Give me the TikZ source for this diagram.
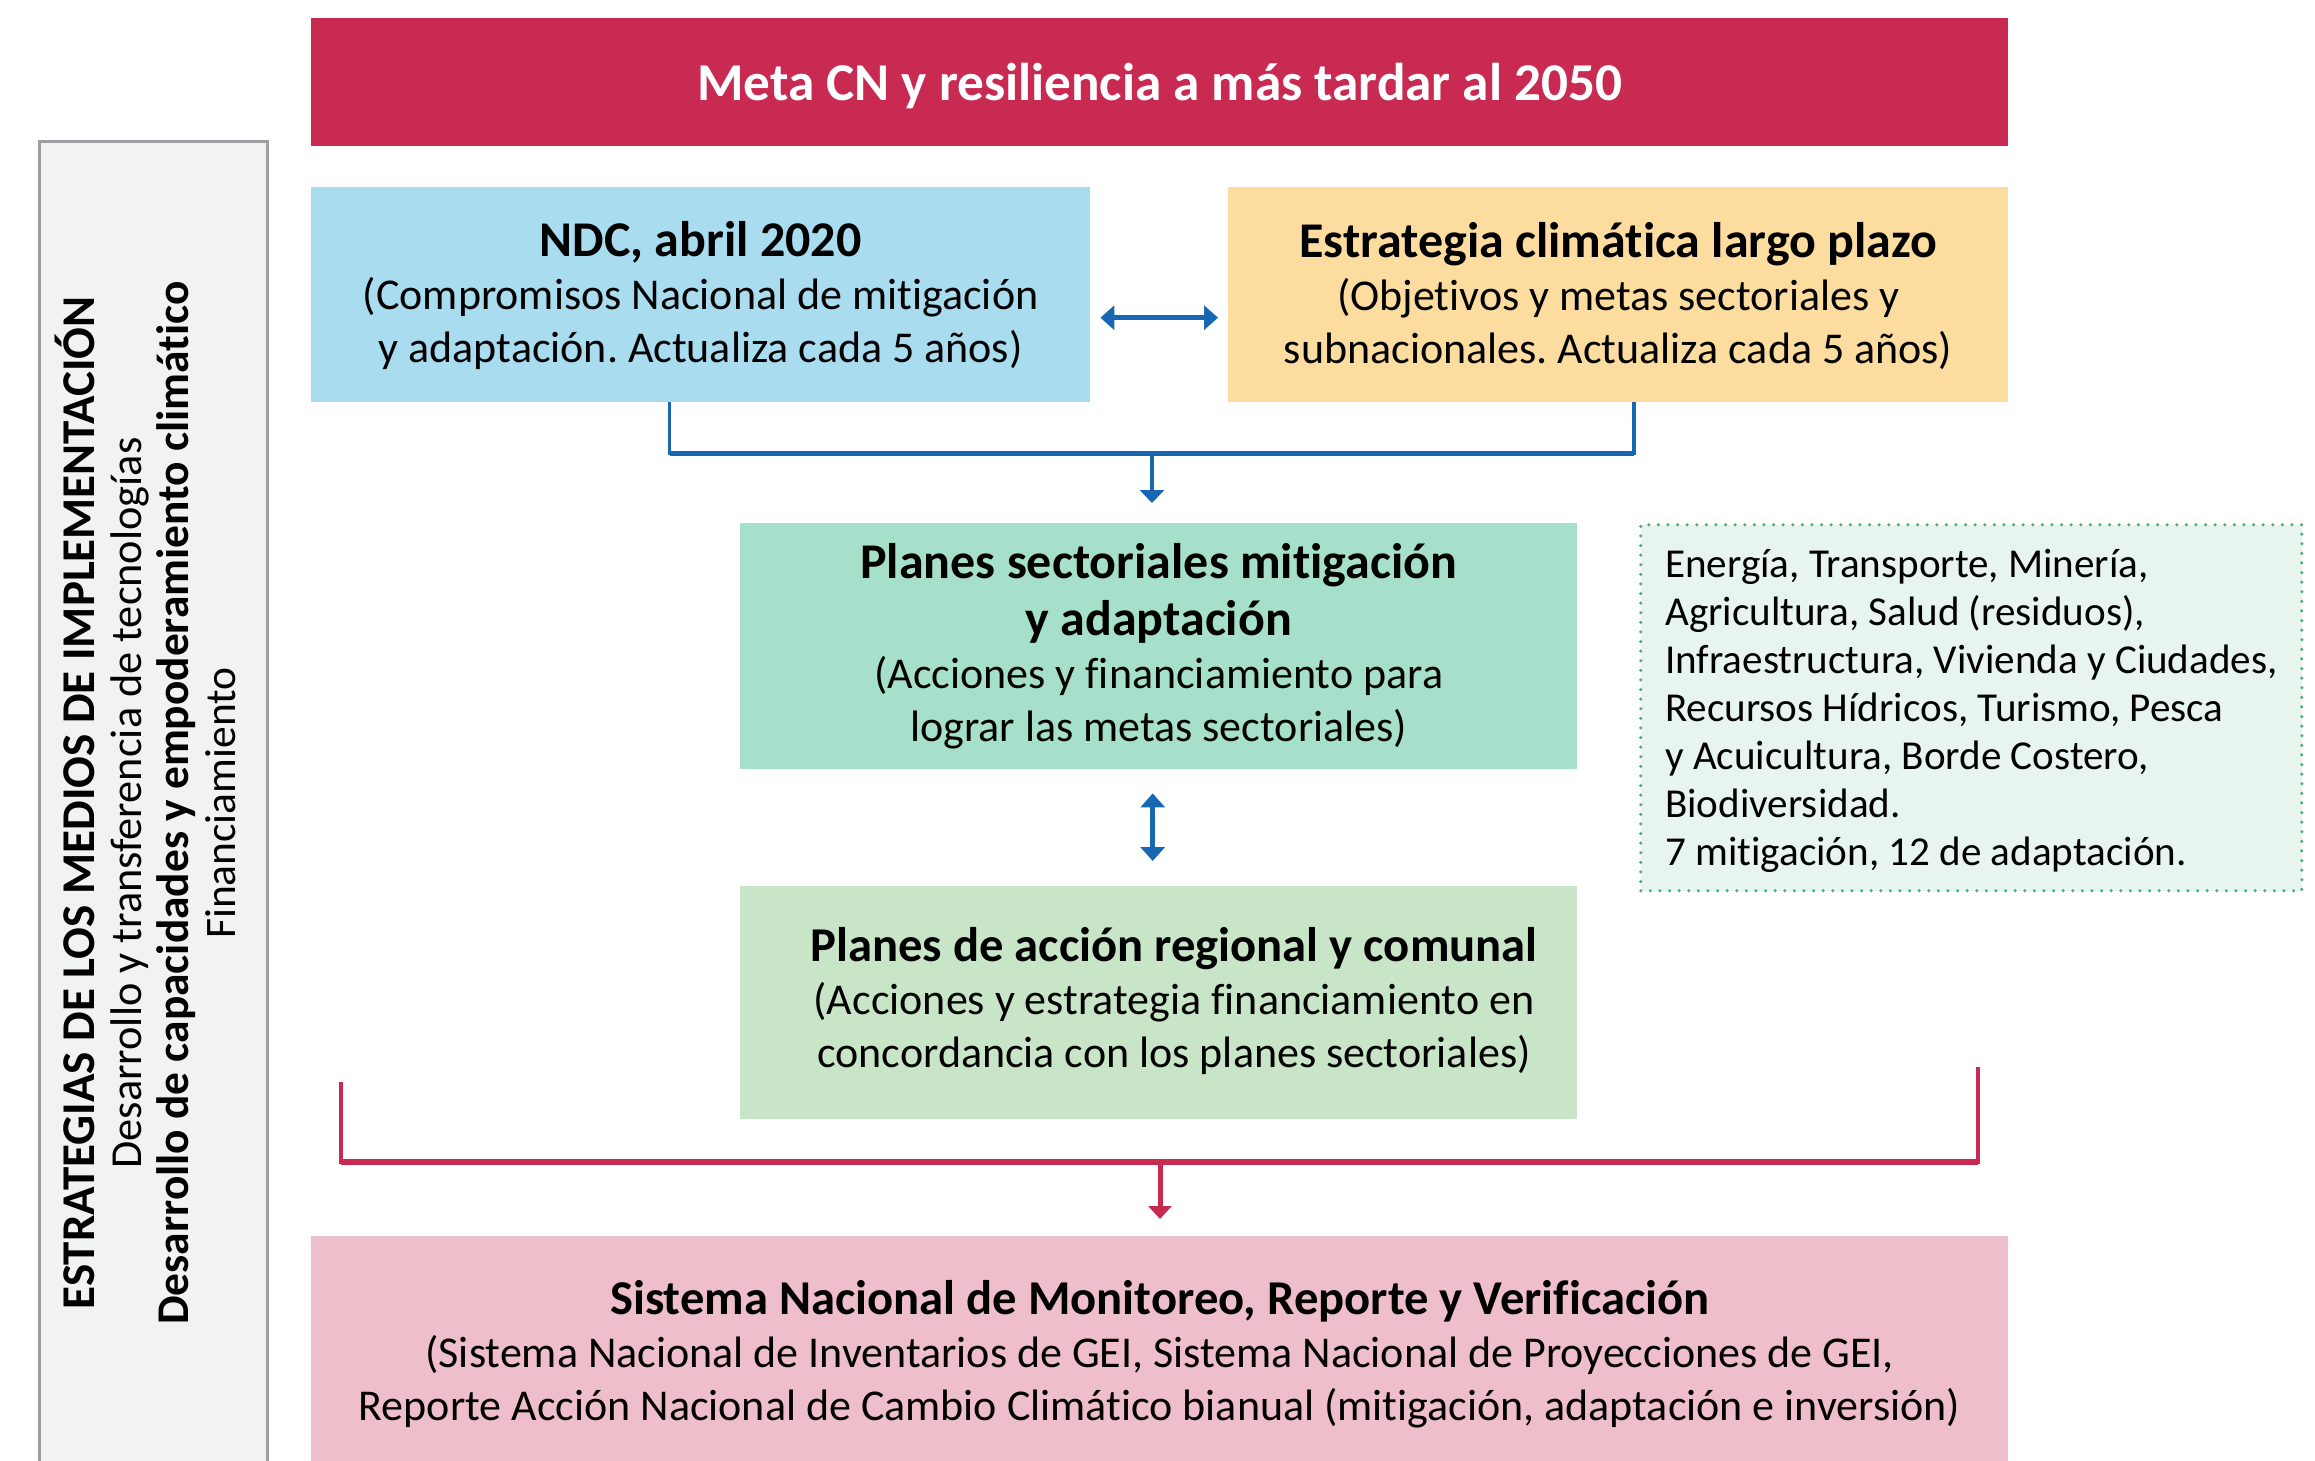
\documentclass[tikz,border=0pt]{standalone}
\usepackage{fontspec}
\setmainfont[Ligatures=NoCommon]{Carlito}
\usetikzlibrary{arrows.meta}
\definecolor{redc}{HTML}{C92A52}
\definecolor{bluebox}{HTML}{A8DCEE}
\definecolor{yellowbox}{HTML}{FDDD9F}
\definecolor{greenbox}{HTML}{A6E0CA}
\definecolor{lgreenbox}{HTML}{C9E5C7}
\definecolor{pinkbox}{HTML}{EEBECA}
\definecolor{dotfill}{HTML}{E7F5EE}
\definecolor{dotc}{HTML}{4CB07A}
\definecolor{bluec}{HTML}{1767B3}
\definecolor{grayfill}{HTML}{F1F2F2}
\definecolor{grayline}{HTML}{9D9FA2}
\newcommand{\hd}[1]{{\bfseries\fontsize{50}{54}\selectfont #1}}
\newcommand{\hdb}[1]{{\bfseries\fontsize{48.6}{54}\selectfont #1}}
\frenchspacing
\begin{document}
\begin{tikzpicture}[x=1pt,y=-1pt,
  box/.style={inner sep=0pt, anchor=north west, align=center, text=black},
  body/.style={font=\fontsize{44}{53}\selectfont},
  bluecon/.style={draw=bluec, line width=3.5pt},
  bluearr/.style={draw=bluec, line width=4pt, -{Triangle[length=13pt,width=24pt]}},
  bluedbl/.style={draw=bluec, line width=4.5pt, {Triangle[length=14pt,width=24pt]}-{Triangle[length=14pt,width=24pt]}},
  redcon/.style={draw=redc, line width=3.5pt},
  redarr/.style={draw=redc, line width=5pt, -{Triangle[length=13pt,width=23pt]}}
]
\useasboundingbox (0,0) rectangle (2315,1460);

% sidebar
\node[box, fill=grayfill, draw=grayline, line width=3pt, minimum width=228pt, minimum height=1325pt] (side) at (38,140) {};
\node[rotate=90, align=center, inner sep=0pt, font=\fontsize{44}{47}\selectfont] (sidetxt) at (145,803)
  {{\bfseries\fontsize{47}{47}\selectfont ESTRATEGIAS DE LOS MEDIOS DE IMPLEMENTACIÓN}\\
   {\fontsize{44.3}{47}\selectfont Desarrollo y transferencia de tecnologías}\\
   {\bfseries\fontsize{45.4}{47}\selectfont Desarrollo de capacidades y empoderamiento climático}\\
   {\fontsize{43.5}{47}\selectfont Financiamiento}};

% title
\node[box, fill=redc, text=white, minimum width=1697pt, minimum height=128pt, text depth=0pt,
  font=\bfseries\fontsize{53.2}{60}\selectfont] (meta) at (311,18)
  {Meta CN y resiliencia a más tardar al 2050};

% NDC
\node[box, body, fill=bluebox, minimum width=779pt, minimum height=213pt] (ndc) at (311,189)
  {\hd{NDC, abril 2020}\\
   (Compromisos Nacional de mitigación\\
   y adaptación. Actualiza cada 5 años)};
\fill[bluebox] (311,187) rectangle (1090,190);

% Estrategia
\node[box, body, fill=yellowbox, minimum width=780pt, minimum height=213pt] (ecl) at (1228,189)
  {\hd{Estrategia climática largo plazo}\\
   (Objetivos y metas sectoriales y\\
   subnacionales. Actualiza cada 5 años)};
\fill[yellowbox] (1228,187) rectangle (2008,190);

% Planes sectoriales
\node[box, body, fill=greenbox, minimum width=837pt, minimum height=246pt] (sec) at (740,523)
  {\hd{Planes sectoriales mitigación}\\[4pt]
   \hd{y adaptación}\\
   (Acciones y financiamiento para\\
   lograr las metas sectoriales)};

% Planes de accion
\node[box, fill=lgreenbox, minimum width=837pt, minimum height=233pt] (acc) at (740,886) {};
\node[align=center, inner sep=0pt, body] (acctxt) at (1174,1001)
  {\hdb{Planes de acción regional y comunal}\\
   (Acciones y estrategia financiamiento en\\
   concordancia con los planes sectoriales)};

% dotted box
\node[box, fill=dotfill, draw=dotc, line width=3.5pt, dash pattern=on 0pt off 9.6pt, line cap=round,
  minimum width=661pt, minimum height=366pt] (dot) at (1639,523) {};
\node[anchor=west, align=left, inner sep=0pt, font=\fontsize{41.1}{48}\selectfont] (dottxt) at (1665,711)
  {Energía, Transporte, Minería,\\
   Agricultura, Salud (residuos),\\
   Infraestructura, Vivienda y Ciudades,\\
   Recursos Hídricos, Turismo, Pesca\\
   y Acuicultura, Borde Costero,\\
   Biodiversidad.\\
   7 mitigación, 12 de adaptación.};

% bottom pink
\node[box, body, fill=pinkbox, minimum width=1697pt, minimum height=236pt] (mrv) at (311,1236)
  {\hdb{Sistema Nacional de Monitoreo, Reporte y Verificación}\\
   (Sistema Nacional de Inventarios de GEI, Sistema Nacional de Proyecciones de GEI,\\
   Reporte Acción Nacional de Cambio Climático bianual (mitigación, adaptación e inversión)};

% blue connectors
\coordinate (bj) at (1152,453);
\draw[bluecon] ([xshift=-31pt]ndc.south) |- (bj) -| ([xshift=16pt]ecl.south);
\draw[draw=bluec, line width=5pt] ([xshift=-31pt]ndc.south |- bj) -- ([xshift=16pt]ecl.south |- bj);
\draw[bluearr, shorten >=20pt] (bj) -- (bj |- sec.north);
\draw[bluedbl, shorten <=10pt, shorten >=10pt] ([yshift=-22pt]ndc.east) -- ([yshift=-22pt]ecl.west);
\draw[bluedbl, shorten <=24pt, shorten >=25pt] ([xshift=-6pt]sec.south) -- ([xshift=-6pt]acc.north);

% red connectors
\coordinate (rl) at (341,1082);
\coordinate (rr) at (1978,1067);
\coordinate (rj) at (1160,1162);
\draw[redcon] (rl) |- (rj) -| (rr);
\draw[draw=redc, line width=5.5pt] (rl |- rj) -- (rr |- rj);
\draw[redarr, shorten >=17pt] (rj) -- (rj |- mrv.north);
\end{tikzpicture}
\end{document}
